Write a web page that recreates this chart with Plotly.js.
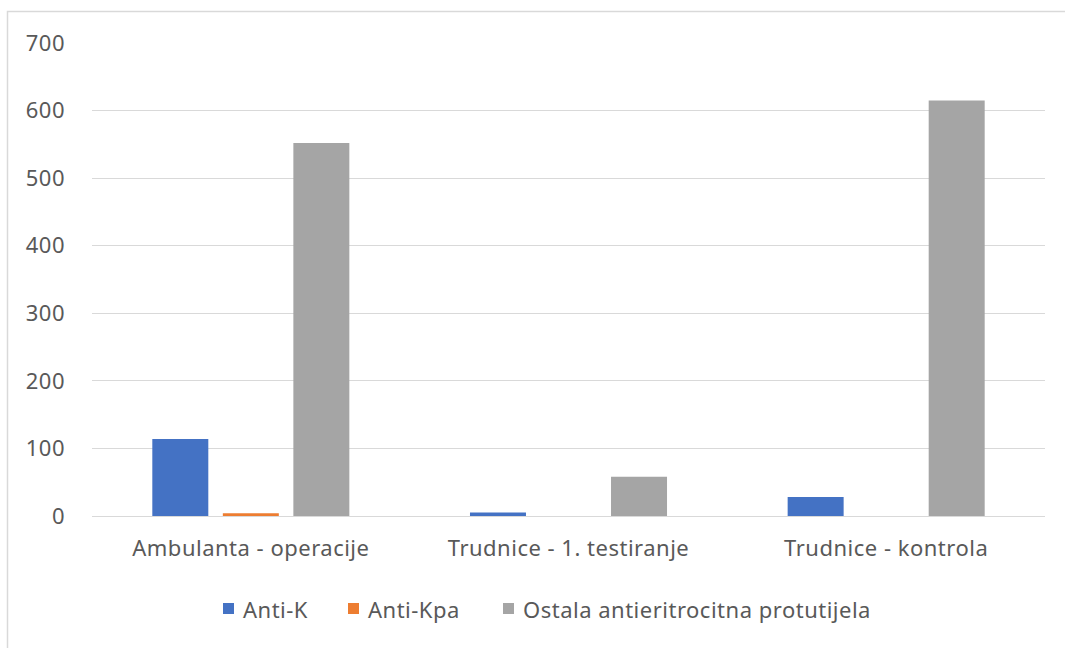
<!DOCTYPE html>
<html>
<head>
<meta charset="utf-8">
<script src="https://cdn.plot.ly/plotly-3.0.1.min.js"></script>
<style>
html,body{margin:0;padding:0;background:#fff;}
#chart{width:1065px;height:648px;}
#chart text{letter-spacing:0.5px;}
</style>
</head>
<body>
<div id="chart"></div>
<script>
const categories = ["Ambulanta - operacije", "Trudnice - 1. testiranje", "Trudnice - kontrola"];
const seriesNames = ["Anti-K", "Anti-Kpa", "Ostala antieritrocitna protutijela"];
const antiK = [114, 5, 28];
const antiKpa = [4, 0, 0];
const ostala = [552, 58, 615];
const colors = ["#4472C4", "#ED7D31", "#A5A5A5"];
const yTicks = [0, 100, 200, 300, 400, 500, 600, 700];

const values = [antiK, antiKpa, ostala];
const font = "Noto Sans, DejaVu Sans, sans-serif";
const textColor = "#595959";

const traces = values.map((v, i) => ({
  type: "bar",
  name: seriesNames[i],
  x: categories,
  y: v,
  marker: {color: colors[i], line: {width: 0}},
  showlegend: false
}));

const W = 1065, H = 648;
const L = 92, R = 20, T = 43, B = 132;
const pw = W - L - R, ph = H - T - B;
const px = p => (p - L) / pw;
const py = p => (H - B - p) / ph;

// custom legend (positions of legend items in page pixels)
const legendX = [223, 348, 503];
const legendY = 608.5;
const sq = 11;
const shapes = [{
  type: "path",
  xref: "paper", yref: "paper",
  path: `M ${px(7.5)} ${py(660)} L ${px(7.5)} ${py(11.5)} L ${px(1080)} ${py(11.5)}`,
  line: {color: "#d9d9d9", width: 1.5},
  layer: "below"
}];
const annotations = [];
seriesNames.forEach((name, i) => {
  shapes.push({
    type: "rect", xref: "paper", yref: "paper",
    x0: px(legendX[i]), x1: px(legendX[i] + sq),
    y0: py(legendY - sq / 2), y1: py(legendY + sq / 2),
    fillcolor: colors[i], line: {width: 0}
  });
  annotations.push({
    xref: "paper", yref: "paper",
    x: px(legendX[i] + sq + 7), y: py(legendY),
    xanchor: "left", yanchor: "middle",
    align: "left",
    showarrow: false,
    text: name,
    font: {family: font, size: 22, color: textColor}
  });
});

const layout = {
  width: W, height: H,
  margin: {l: L, r: R, t: T, b: B, pad: 0},
  paper_bgcolor: "#ffffff",
  plot_bgcolor: "#ffffff",
  barmode: "group",
  bargap: 0.334,
  bargroupgap: 0.206,
  showlegend: false,
  xaxis: {
    type: "category",
    showgrid: false,
    zeroline: false,
    showline: false,
    ticks: "",
    ticklabelstandoff: 17,
    tickfont: {family: font, size: 22, color: textColor}
  },
  yaxis: {
    range: [0, 700],
    tickvals: yTicks,
    ticktext: yTicks.map(String),
    showgrid: true,
    gridcolor: "#d9d9d9",
    gridwidth: 1,
    zeroline: true,
    zerolinecolor: "#d9d9d9",
    zerolinewidth: 1,
    showline: false,
    ticks: "",
    ticklabelstandoff: 26,
    tickfont: {family: font, size: 22, color: textColor}
  },
  shapes: shapes,
  annotations: annotations
};

Plotly.newPlot("chart", traces, layout, {displayModeBar: false, staticPlot: true});
</script>
</body>
</html>
